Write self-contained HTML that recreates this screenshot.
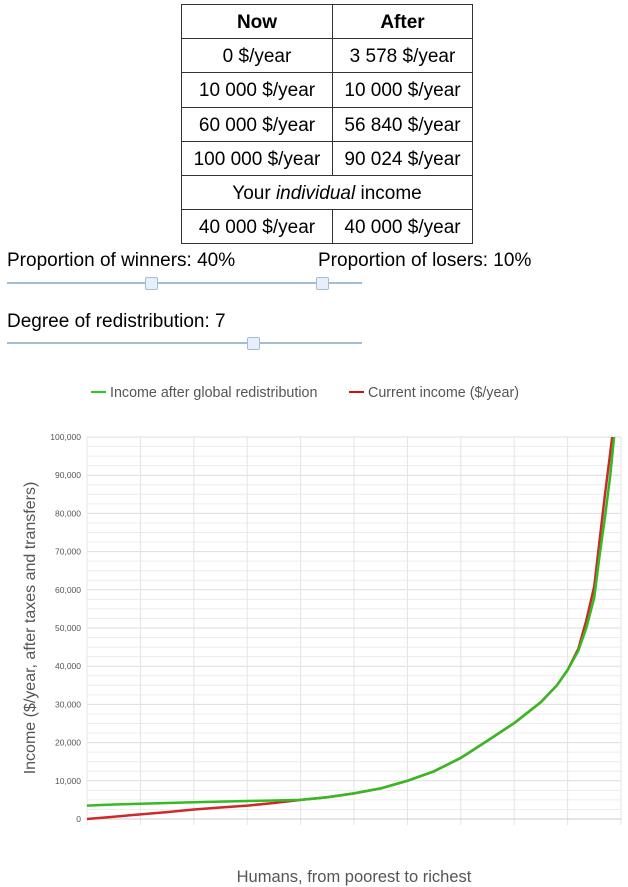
<!DOCTYPE html>
<html><head><meta charset="utf-8">
<style>
body{margin:0;width:628px;height:887px;background:#fff;font-family:"Liberation Sans",Arial,sans-serif;position:relative;overflow:hidden}
table{position:absolute;left:181px;top:4px;border-collapse:collapse;font-size:19px}
td,th{border:1px solid #333;text-align:center;height:34.2px;padding:3px 0 0 0;color:#000;box-sizing:border-box}
th{font-weight:bold}
td.c1,th.c1{width:151px}td.c2,th.c2{width:140px}
.lbl{position:absolute;font-size:19px;color:#000}
.track{position:absolute;height:2px;background:#a5bdd2}
.thumb{position:absolute;width:11px;height:11px;background:#e6effa;border:1px solid #a5bdd2;border-radius:2px}
</style></head><body>
<table>
<tr><th class="c1">Now</th><th class="c2">After</th></tr>
<tr><td>0 $/year</td><td>3 578 $/year</td></tr>
<tr><td>10 000 $/year</td><td>10 000 $/year</td></tr>
<tr><td>60 000 $/year</td><td>56 840 $/year</td></tr>
<tr><td>100 000 $/year</td><td>90 024 $/year</td></tr>
<tr><td colspan="2">Your <i>individual</i> income</td></tr>
<tr><td>40 000 $/year</td><td>40 000 $/year</td></tr>
</table>
<div class="lbl" style="left:7px;top:250px">Proportion of winners: 40%</div>
<div class="lbl" style="left:318px;top:250px">Proportion of losers: 10%</div>
<div class="track" style="left:7px;top:282px;width:355px"></div>
<div class="thumb" style="left:145px;top:277px"></div>
<div class="thumb" style="left:316px;top:277px"></div>
<div class="lbl" style="left:7px;top:311px">Degree of redistribution: 7</div>
<div class="track" style="left:7px;top:342px;width:355px"></div>
<div class="thumb" style="left:247px;top:337px"></div>
<svg id="chart" width="628" height="887" style="position:absolute;left:0;top:0" font-family="Liberation Sans, Arial, sans-serif"></svg>
<script>
const pct=[0,5,10,15,20,25,30,35,40,45,50,55,60,65,70,75,80,85,88,90,92,93.5,95,96,97,98,98.7];
const greenVals=[3500,3800,4000,4200,4400,4550,4700,4850,5000,5700,6700,8000,10000,12500,16000,20500,25100,30600,35000,39000,44000,50000,58000,69000,79000,90000,100000];
const redVals=[0,600,1200,1800,2500,3000,3500,4200,5000,5700,6700,8000,10000,12500,16000,20500,25100,30600,35000,39000,44500,52000,61000,73000,85000,96000,104000];
const yTicks=[0,10000,20000,30000,40000,50000,60000,70000,80000,90000,100000];
const xGrid=[0,10,20,30,40,50,60,70,80,90,100];
const NS='http://www.w3.org/2000/svg';
const svg=document.getElementById('chart');
const X=v=>87+v*5.34, Y=v=>819-v*0.00382;
function mk(t,a){const e=document.createElementNS(NS,t);for(const k in a)e.setAttribute(k,a[k]);svg.appendChild(e);return e;}
const defs=mk('defs',{});
const cp=document.createElementNS(NS,'clipPath');cp.setAttribute('id','clip');
const cr=document.createElementNS(NS,'rect');cr.setAttribute('x',80);cr.setAttribute('y',Y(100000));cr.setAttribute('width',560);cr.setAttribute('height',400);
cp.appendChild(cr);defs.appendChild(cp);
for(let v=0;v<=100000;v+=2500){
 const g=mk('line',{x1:X(0),x2:X(100),y1:Y(v),y2:Y(v),stroke:v%10000===0?'#dedede':'#ececec','stroke-width':1});
 
 
}
xGrid.forEach(p=>{
 const g=mk('line',{x1:X(p),x2:X(p),y1:Y(100000),y2:Y(0)+6,stroke:'#e4e4e4','stroke-width':1});
 
 
});
mk('line',{x1:X(0),x2:X(100),y1:Y(0),y2:Y(0),stroke:'#ccc','stroke-width':1});
yTicks.forEach(v=>{
 const t=mk('text',{x:81,y:Y(v)+3,'text-anchor':'end','font-size':8.5,fill:'#555'});
 t.textContent=v===0?'0':v.toLocaleString('en-US');
 
 
});
function line(vals,col,name){
 const d=pct.map((p,i)=>(i?'L':'M')+X(p).toFixed(1)+','+Y(vals[i]).toFixed(1)).join('');
 const e=mk('path',{d:d,fill:'none',stroke:col,'stroke-width':2.5,'clip-path':'url(#clip)','stroke-linejoin':'round'});
 
 
}
line(redVals,'#cc2a2a','current-income-line');
line(greenVals,'#33bb22','after-redistribution-line');
let t=mk('text',{x:0,y:0,transform:'translate(35,628) rotate(-90)','text-anchor':'middle','font-size':16,fill:'#555'});
t.textContent='Income ($/year, after taxes and transfers)';


t=mk('text',{x:354,y:882,'text-anchor':'middle','font-size':16.5,fill:'#555'});
t.textContent='Humans, from poorest to richest';


let l=mk('line',{x1:91,x2:106,y1:392,y2:392,stroke:'#22cc22','stroke-width':2});


t=mk('text',{x:110,y:397,'font-size':14.3,fill:'#555'});t.textContent='Income after global redistribution';


l=mk('line',{x1:349,x2:364,y1:392,y2:392,stroke:'#cc1111','stroke-width':2});


t=mk('text',{x:368,y:397,'font-size':14.3,fill:'#555'});t.textContent='Current income ($/year)';


</script>
</body></html>
